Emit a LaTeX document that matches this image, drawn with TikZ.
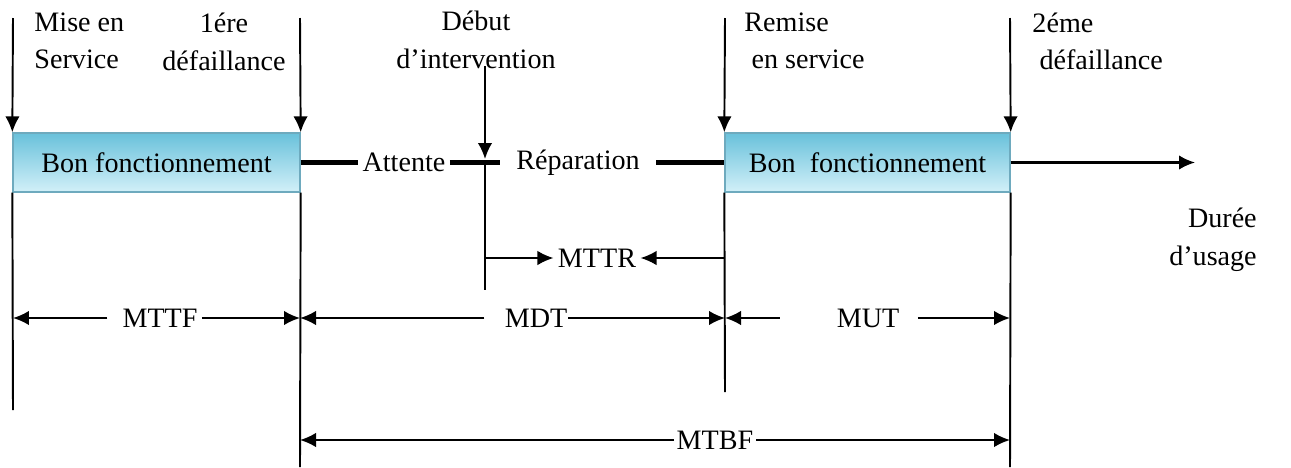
\documentclass[tikz,border=0pt]{standalone}
\usepackage{fontspec}
\setmainfont{Liberation Serif}
\usepackage{tikz}
\usetikzlibrary{arrows.meta}

\definecolor{hautbleu}{RGB}{105,193,219}
\definecolor{basbleu}{RGB}{210,240,248}
\definecolor{bordbleu}{RGB}{110,170,190}

\begin{document}
\begin{tikzpicture}
            [x=0.02cm,y=-0.02cm,line width=1.1pt,>={Latex[length=3.2mm,width=2.9mm]},
            every node/.style={font=\fontsize{16}{21.5}\selectfont,inner sep=2pt},
            etat/.style={draw=bordbleu,line width=0.8pt,top color=hautbleu,bottom color=basbleu,
              minimum height=1.18cm,inner sep=0pt},
            epais/.style={line width=3.4pt}]
            \useasboundingbox (0,0) rectangle (1291,467);
            % etats de bon fonctionnement
            \node[etat,minimum width=5.74cm] (bon1) at (156.5,162.5) {Bon fonctionnement};
            \node[etat,minimum width=5.7cm] (bon2) at (867.5,162.5) {Bon\ \ fonctionnement};
            %
            \node (attente) at (404,162.5) {Attente};
            \node[inner sep=9pt] (reparation) at (578,162.5) {R\'eparation};
            \node[align=right] (duree) at (1213,240) {Dur\'ee\\d'usage};
            %
            \node[anchor=north west,align=left] (mise) at (30,8) {Mise en\\Service};
            \node[align=center] (def1) at (224,42) {1\'ere\\d\'efaillance};
            \node[align=center] (debut) at (476,40) {D\'ebut\\d'intervention};
            \node[anchor=north west,align=left] (remise) at (740,8) {Remise\\\hspace{0.25em}en service};
            \node[anchor=north west,align=left] (def2) at (1028,8) {2\'eme\\\hspace{0.25em}d\'efaillance};
            %
            \node (mttr) at (597,258) {MTTR};
            \node (mttf) at (160,318) {MTTF};
            \node[inner sep=0pt] (mdt) at (536,318) {MDT};
            \node[inner sep=10pt] (mut) at (868,318) {MUT};
            \node[inner sep=1pt] (mtbf) at (715,440) {MTBF};
            %
            \coordinate (h1) at (13,18);
            \coordinate (h2) at (300,18);
            \coordinate (h3) at (485,66);
            \coordinate (h4) at (725,18);
            \coordinate (h5) at (1010,18);
            \coordinate (i3) at (485,159);
            \coordinate (j3) at (485,165);
            \coordinate (b1) at (13,410);
            \coordinate (b2) at (300,467);
            \coordinate (b3) at (485,290);
            \coordinate (b4) at (725,392);
            \coordinate (b5) at (1010,467);
            \coordinate (fin) at (1195,162.5);
            %
            \draw[->] (h1) -- (bon1.north west);
            \draw[->] (h2) -- (bon1.north east);
            \draw[->] (h3) -- (i3);
            \draw[->] (h4) -- (bon2.north west);
            \draw[->] (h5) -- (bon2.north east);
            \draw (bon1.south west) -- (b1);
            \draw (bon1.south east) -- (b2);
            \draw (j3) -- (b3);
            \draw (bon2.south west) -- (b4);
            \draw (bon2.south east) -- (b5);
            %
            \draw[epais] (bon1.east) -- (attente.west);
            \draw[epais] (attente.east) -- (reparation.west);
            \draw[epais] (reparation.east) -- (bon2.west);
            \draw[->,line width=1.3pt] (bon2.east) -- (fin);
            %
            \draw[->] (b3 |- mttr) -- (mttr.west);
            \draw[->] (b4 |- mttr) -- (mttr.east);
            \draw[->] ([xshift=-6pt]mttf.west) -- (b1 |- mttf);
            \draw[->] (mttf.east) -- (b2 |- mttf);
            \draw[->] ([xshift=-11pt]mdt.west) -- (b2 |- mdt);
            \draw[->] (mdt.east) -- (b4 |- mdt);
            \draw[->] ([xshift=-22pt]mut.west) -- (b4 |- mut);
            \draw[->] (mut.east) -- (b5 |- mut);
            \draw[->] (mtbf.west) -- (b2 |- mtbf);
            \draw[->] (mtbf.east) -- (b5 |- mtbf);
        \end{tikzpicture}
\end{document}
